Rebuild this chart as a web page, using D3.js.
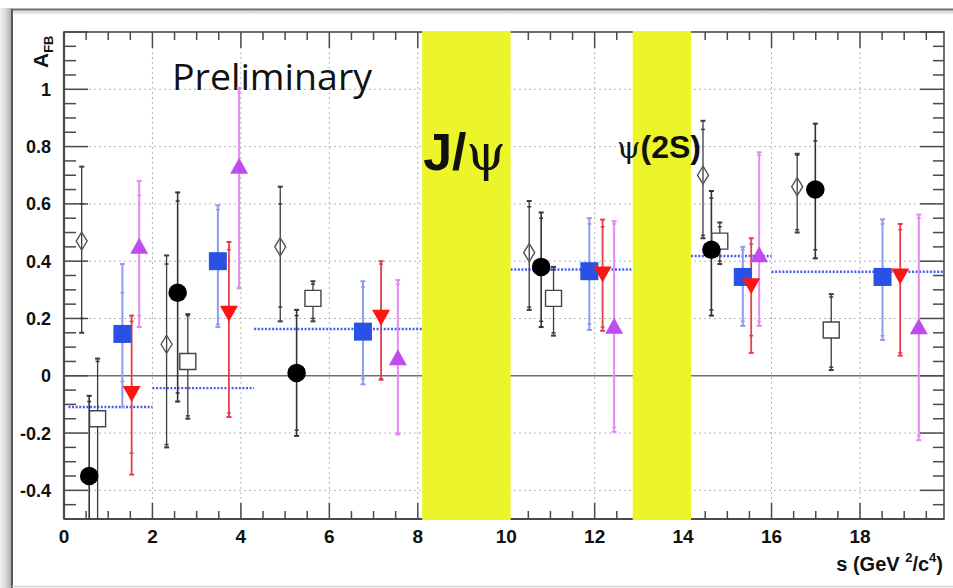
<!DOCTYPE html>
<html>
<head>
<meta charset="utf-8">
<script src="https://cdn.jsdelivr.net/npm/d3@7"></script>
<style>
  body { margin: 0; background: #fff; }
  svg { display: block; }
</style>
</head>
<body>
<svg id="chart" width="953" height="588"></svg>
<script>
// ---- axis ticks ----
const xTickValues = [0, 2, 4, 6, 8, 10, 12, 14, 16, 18];
const yTickValues = [-0.4, -0.2, 0, 0.2, 0.4, 0.6, 0.8, 1];
const yTickLabels = ["-0.4", "-0.2", "0", "0.2", "0.4", "0.6", "0.8", "1"];

// ---- resonance veto windows (s range) ----
const vetoLo = [8.1, 12.86];
const vetoHi = [10.1, 14.18];

// ---- SM expectation per bin (dotted blue) ----
const smLo = [0.1, 2.0, 4.3, 10.1, 14.18, 16.0];
const smHi = [2.0, 4.3, 8.1, 12.86, 16.0, 19.9];
const smVal = [-0.109, -0.043, 0.163, 0.371, 0.418, 0.363];

// ---- measurements: s position, A_FB, total error range, stat error range ----
const diamondS  = [0.40, 2.32, 4.89, 10.52, 14.45, 16.58];
const diamondA  = [0.47, 0.11, 0.45, 0.43, 0.70, 0.66];
const diamondHi = [0.73, 0.42, 0.66, 0.61, 0.89, 0.775];
const diamondLo = [0.15, -0.25, 0.19, 0.23, 0.48, 0.50];
const diamondStatHi = [0.60, 0.39, 0.60, 0.59, 0.86, 0.77];
const diamondStatLo = [0.20, -0.24, 0.24, 0.24, 0.49, 0.51];

const circleS  = [0.57, 2.57, 5.26, 10.79, 14.64, 16.99];
const circleA  = [-0.35, 0.29, 0.01, 0.38, 0.44, 0.65];
const circleHi = [-0.07, 0.64, 0.23, 0.57, 0.645, 0.88];
const circleLo = [-0.6, -0.09, -0.21, 0.17, 0.21, 0.41];
const circleStatHi = [-0.09, 0.61, 0.21, 0.55, 0.62, 0.82];
const circleStatLo = [-0.6, -0.06, -0.19, 0.19, 0.23, 0.44];

const openSqS  = [0.76, 2.80, 5.63, 11.07, 14.83, 17.35];
const openSqA  = [-0.15, 0.05, 0.27, 0.27, 0.47, 0.16];
const openSqHi = [0.06, 0.215, 0.33, 0.38, 0.535, 0.285];
const openSqLo = [-0.6, -0.15, 0.19, 0.14, 0.39, 0.02];
const openSqStatHi = [0.05, 0.21, 0.32, 0.37, 0.52, 0.275];
const openSqStatLo = [-0.6, -0.14, 0.20, 0.15, 0.40, 0.03];

const blueS  = [1.32, 3.48, 6.76, 11.88, 15.35, 18.51];
const blueA  = [0.146, 0.40, 0.154, 0.365, 0.345, 0.345];
const blueHi = [0.39, 0.595, 0.33, 0.55, 0.45, 0.546];
const blueLo = [-0.11, 0.17, -0.03, 0.16, 0.174, 0.125];
const blueStatHi = [0.29, 0.58, 0.31, 0.53, 0.44, 0.53];
const blueStatLo = [-0.02, 0.18, -0.01, 0.18, 0.19, 0.14];

const redS  = [1.53, 3.73, 7.17, 12.18, 15.54, 18.91];
const redA  = [-0.06, 0.22, 0.206, 0.357, 0.316, 0.35];
const redHi = [0.21, 0.467, 0.40, 0.545, 0.48, 0.53];
const redLo = [-0.345, -0.144, -0.014, 0.157, 0.08, 0.07];
const redStatHi = [0.19, 0.44, 0.39, 0.52, 0.46, 0.51];
const redStatLo = [-0.27, -0.13, -0.01, 0.17, 0.14, 0.08];

const violetS  = [1.70, 3.96, 7.55, 12.44, 15.72, 19.33];
const violetA  = [0.447, 0.726, 0.058, 0.168, 0.417, 0.166];
const violetHi = [0.68, 1.005, 0.334, 0.54, 0.78, 0.563];
const violetLo = [0.17, 0.305, -0.205, -0.196, 0.174, -0.225];
const violetStatHi = [0.63, 0.99, 0.32, 0.53, 0.77, 0.55];
const violetStatLo = [0.21, 0.31, -0.20, -0.18, 0.19, -0.21];

// ---- layout ----
const svg = d3.select("#chart");
const W = 953, H = 588;
const plot = { left: 64, right: 944, top: 32, bottom: 519 };

const x = d3.scaleLinear().domain([0, 19.9]).range([plot.left, plot.right]);
const y = d3.scaleLinear().domain([-0.5, 1.2]).range([plot.bottom, plot.top]);

// canvas frame with soft shadow on the left
const defs = svg.append("defs");
const grad = defs.append("linearGradient").attr("id", "shade").attr("x1", 0).attr("x2", 1);
grad.append("stop").attr("offset", "0%").attr("stop-color", "#efefef");
grad.append("stop").attr("offset", "45%").attr("stop-color", "#dedede");
grad.append("stop").attr("offset", "100%").attr("stop-color", "#b0b0b0");
svg.append("rect").attr("x", 0).attr("y", 0).attr("width", W).attr("height", H).attr("fill", "#fff");
svg.append("rect").attr("x", 0).attr("y", 8).attr("width", 11).attr("height", H - 8).attr("fill", "url(#shade)");
const gradTop = defs.append("linearGradient").attr("id", "shadeTop").attr("x1", 0).attr("x2", 0).attr("y1", 0).attr("y2", 1);
gradTop.append("stop").attr("offset", "0%").attr("stop-color", "#d0d0d0");
gradTop.append("stop").attr("offset", "100%").attr("stop-color", "#ffffff");
svg.append("rect").attr("x", 12).attr("y", 11).attr("width", W - 12).attr("height", 4).attr("fill", "url(#shadeTop)");
svg.append("line").attr("x1", 11).attr("x2", W).attr("y1", 9.5).attr("y2", 9.5).attr("stroke", "#6d6d6d").attr("stroke-width", 2);
svg.append("line").attr("x1", 12).attr("x2", 12).attr("y1", 9).attr("y2", H).attr("stroke", "#5a5a5a").attr("stroke-width", 2);
svg.append("line").attr("x1", 12).attr("x2", W).attr("y1", 586.5).attr("y2", 586.5).attr("stroke", "#d4d4d4").attr("stroke-width", 1.5);

defs.append("clipPath").attr("id", "plotClip").append("rect")
  .attr("x", plot.left).attr("y", plot.top)
  .attr("width", plot.right - plot.left).attr("height", plot.bottom - plot.top);

// grid
const grid = svg.append("g").attr("stroke", "#b4b4b4").attr("stroke-width", 1).attr("stroke-dasharray", "2,3");
grid.selectAll(".gx").data(xTickValues.filter(v => v > 0)).join("line")
  .attr("x1", d => x(d)).attr("x2", d => x(d)).attr("y1", plot.top).attr("y2", plot.bottom);
grid.selectAll(".gy").data(yTickValues.filter(v => v !== 0)).join("line")
  .attr("x1", plot.left).attr("x2", plot.right).attr("y1", d => y(d)).attr("y2", d => y(d));

// zero line
svg.append("line").attr("x1", plot.left).attr("x2", plot.right)
  .attr("y1", y(0)).attr("y2", y(0)).attr("stroke", "#6f6f6f").attr("stroke-width", 1.6);

// SM expectation segments
svg.append("g").selectAll("line").data(smVal).join("line")
  .attr("x1", (d, i) => x(smLo[i])).attr("x2", (d, i) => x(smHi[i]))
  .attr("y1", d => y(d)).attr("y2", d => y(d))
  .attr("stroke", "#4a5cf0").attr("stroke-width", 2.4).attr("stroke-dasharray", "2,1.6");

// axes: frame + inward ticks on all four sides
const axisG = svg.append("g").attr("stroke", "#4a4a4a");
const xMinor = d3.range(0, 19.9, 0.5);
const yMinor = d3.range(-0.5, 1.2001, 0.05).map(v => Math.round(v * 100) / 100);
const isMajorX = v => Math.abs(v / 2 - Math.round(v / 2)) < 1e-6;
const isMajorY = v => Math.abs(v / 0.2 - Math.round(v / 0.2)) < 1e-6;

axisG.selectAll(".tb").data(xMinor).join("line")
  .attr("x1", d => x(d)).attr("x2", d => x(d))
  .attr("y1", plot.bottom).attr("y2", d => plot.bottom - (isMajorX(d) ? 16 : 8))
  .attr("stroke-width", 1.5);
axisG.selectAll(".tt").data(xMinor).join("line")
  .attr("x1", d => x(d)).attr("x2", d => x(d))
  .attr("y1", plot.top).attr("y2", d => plot.top + (isMajorX(d) ? 16 : 8))
  .attr("stroke-width", 1.5);
axisG.selectAll(".tl").data(yMinor).join("line")
  .attr("x1", plot.left).attr("x2", d => plot.left + (isMajorY(d) ? 24 : 12))
  .attr("y1", d => y(d)).attr("y2", d => y(d))
  .attr("stroke-width", 1.5);
axisG.selectAll(".tr").data(yMinor).join("line")
  .attr("x1", plot.right).attr("x2", d => plot.right - (isMajorY(d) ? 24 : 11))
  .attr("y1", d => y(d)).attr("y2", d => y(d))
  .attr("stroke-width", 1.5);
axisG.append("rect").attr("x", plot.left).attr("y", plot.top)
  .attr("width", plot.right - plot.left).attr("height", plot.bottom - plot.top)
  .attr("fill", "none").attr("stroke-width", 1.6);
axisG.append("line").attr("x1", plot.left).attr("x2", plot.left).attr("y1", plot.top).attr("y2", plot.bottom).attr("stroke-width", 2.2);
axisG.append("line").attr("x1", plot.left).attr("x2", plot.right).attr("y1", plot.bottom).attr("y2", plot.bottom).attr("stroke-width", 2.2);

// veto bands drawn over grid and axes
svg.append("g").selectAll("rect").data(vetoLo).join("rect")
  .attr("x", (d, i) => x(d)).attr("width", (d, i) => x(vetoHi[i]) - x(d))
  .attr("y", plot.top - 1).attr("height", plot.bottom - plot.top + 2)
  .attr("fill", "#ecf42a");

// tick labels
const labelFont = "'Liberation Sans', Arial, sans-serif";
svg.append("g").selectAll("text").data(xTickValues).join("text")
  .attr("x", d => x(d)).attr("y", 543)
  .attr("text-anchor", "middle")
  .attr("font-family", labelFont).attr("font-weight", "bold").attr("font-size", 19)
  .attr("fill", "#111").text(d => d);
svg.append("g").selectAll("text").data(yTickValues).join("text")
  .attr("x", 51).attr("y", d => y(d)).attr("dy", "0.36em")
  .attr("text-anchor", "end")
  .attr("font-family", labelFont).attr("font-weight", "bold").attr("font-size", 18)
  .attr("fill", "#111").text((d, i) => yTickLabels[i]);

// axis titles
const yTitle = svg.append("text")
  .attr("transform", "translate(48,68) rotate(-90)")
  .attr("font-family", labelFont).attr("font-weight", "bold").attr("font-size", 21).attr("fill", "#111");
yTitle.append("tspan").text("A");
yTitle.append("tspan").attr("dy", 5).attr("font-size", 13).text("FB");

const xTitle = svg.append("text")
  .attr("x", 943).attr("y", 571).attr("text-anchor", "end")
  .attr("font-family", labelFont).attr("font-weight", "bold").attr("font-size", 20).attr("fill", "#111");
xTitle.append("tspan").text("s (GeV ");
xTitle.append("tspan").attr("dy", -9).attr("font-size", 13).text("2");
xTitle.append("tspan").attr("dy", 9).text("/c");
xTitle.append("tspan").attr("dy", -9).attr("font-size", 13).text("4");
xTitle.append("tspan").attr("dy", 9).text(")");

// annotations
svg.append("text").attr("x", 172).attr("y", 90)
  .attr("font-family", "'Open Sans', 'DejaVu Sans', sans-serif").attr("font-size", 36)
  .attr("textLength", 200).attr("lengthAdjust", "spacingAndGlyphs")
  .attr("fill", "#111").text("Preliminary");

const jpsi = svg.append("text").attr("x", x(vetoLo[0]) + 1).attr("y", 170)
  .attr("font-size", 52).attr("fill", "#111");
jpsi.append("tspan").attr("font-family", labelFont).attr("font-weight", "bold").text("J/");
jpsi.append("tspan").attr("font-family", "'DejaVu Serif', serif").attr("font-size", 50).text("ψ");

const psi2s = svg.append("text").attr("x", 617).attr("y", 158)
  .attr("font-size", 32).attr("fill", "#111");
psi2s.append("tspan").attr("font-family", "'DejaVu Serif', serif").attr("font-size", 30).text("ψ");
psi2s.append("tspan").attr("font-family", labelFont).attr("font-weight", "bold").text("(2S)");

// data series
const series = [
  { s: diamondS, a: diamondA, hi: diamondHi, lo: diamondLo, shi: diamondStatHi, slo: diamondStatLo,
    err: "#3c3c3c", errW: 1.3, marker: "diamond", fill: "none", stroke: "#555" },
  { s: openSqS, a: openSqA, hi: openSqHi, lo: openSqLo, shi: openSqStatHi, slo: openSqStatLo,
    err: "#3c3c3c", errW: 1.3, marker: "square", fill: "#fff", stroke: "#444" },
  { s: circleS, a: circleA, hi: circleHi, lo: circleLo, shi: circleStatHi, slo: circleStatLo,
    err: "#333", errW: 1.6, marker: "circle", fill: "#000", stroke: "none" },
  { s: blueS, a: blueA, hi: blueHi, lo: blueLo, shi: blueStatHi, slo: blueStatLo,
    err: "#8d9bf2", errW: 2, marker: "square", fill: "#2a50e6", stroke: "none" },
  { s: redS, a: redA, hi: redHi, lo: redLo, shi: redStatHi, slo: redStatLo,
    err: "#e0404e", errW: 1.8, marker: "down", fill: "#ff1414", stroke: "none" },
  { s: violetS, a: violetA, hi: violetHi, lo: violetLo, shi: violetStatHi, slo: violetStatLo,
    err: "#e48af2", errW: 2, marker: "up", fill: "#c04cf0", stroke: "none" }
];

const errLayer = svg.append("g").attr("clip-path", "url(#plotClip)");
const markLayer = svg.append("g");

series.forEach(ser => {
  const pts = ser.s.map((s, i) => ({ s, a: ser.a[i], hi: ser.hi[i], lo: ser.lo[i], shi: ser.shi[i], slo: ser.slo[i] }));
  const g = errLayer.append("g").attr("stroke", ser.err).attr("stroke-width", ser.errW);
  g.selectAll(".bar").data(pts).join("line")
    .attr("x1", d => x(d.s)).attr("x2", d => x(d.s))
    .attr("y1", d => y(d.hi)).attr("y2", d => y(d.lo));
  // end caps
  const caps = pts.flatMap(d => [d.hi, d.lo].map(v => ({ s: d.s, v })));
  g.selectAll(".cap").data(caps).join("line")
    .attr("x1", d => x(d.s) - 2.5).attr("x2", d => x(d.s) + 2.5)
    .attr("y1", d => y(d.v)).attr("y2", d => y(d.v)).attr("stroke-width", 2);
  // statistical error marks
  const inner = pts.flatMap(d => [d.shi, d.slo].map(v => ({ s: d.s, v })));
  g.selectAll(".stat").data(inner).join("line")
    .attr("x1", d => x(d.s) - 2).attr("x2", d => x(d.s) + 2)
    .attr("y1", d => y(d.v)).attr("y2", d => y(d.v)).attr("stroke-width", 1.5);

  const m = markLayer.append("g");
  const sel = m.selectAll("path").data(pts).join("path")
    .attr("transform", d => `translate(${x(d.s)},${y(d.a)})`)
    .attr("fill", ser.fill).attr("stroke", ser.stroke).attr("stroke-width", 1.4);
  if (ser.marker === "circle") sel.attr("d", d3.symbol(d3.symbolCircle, 270)());
  if (ser.marker === "square") {
    const h = ser.fill === "#fff" ? 8 : 9;
    sel.attr("d", `M${-h},${-h}H${h}V${h}H${-h}Z`);
  }
  if (ser.marker === "diamond") sel.attr("d", "M0,-9L5.5,0L0,9L-5.5,0Z");
  if (ser.marker === "up") sel.attr("d", "M0,-10L9,6L-9,6Z");
  if (ser.marker === "down") sel.attr("d", "M0,9L9,-7L-9,-7Z");
});
</script>
</body>
</html>
